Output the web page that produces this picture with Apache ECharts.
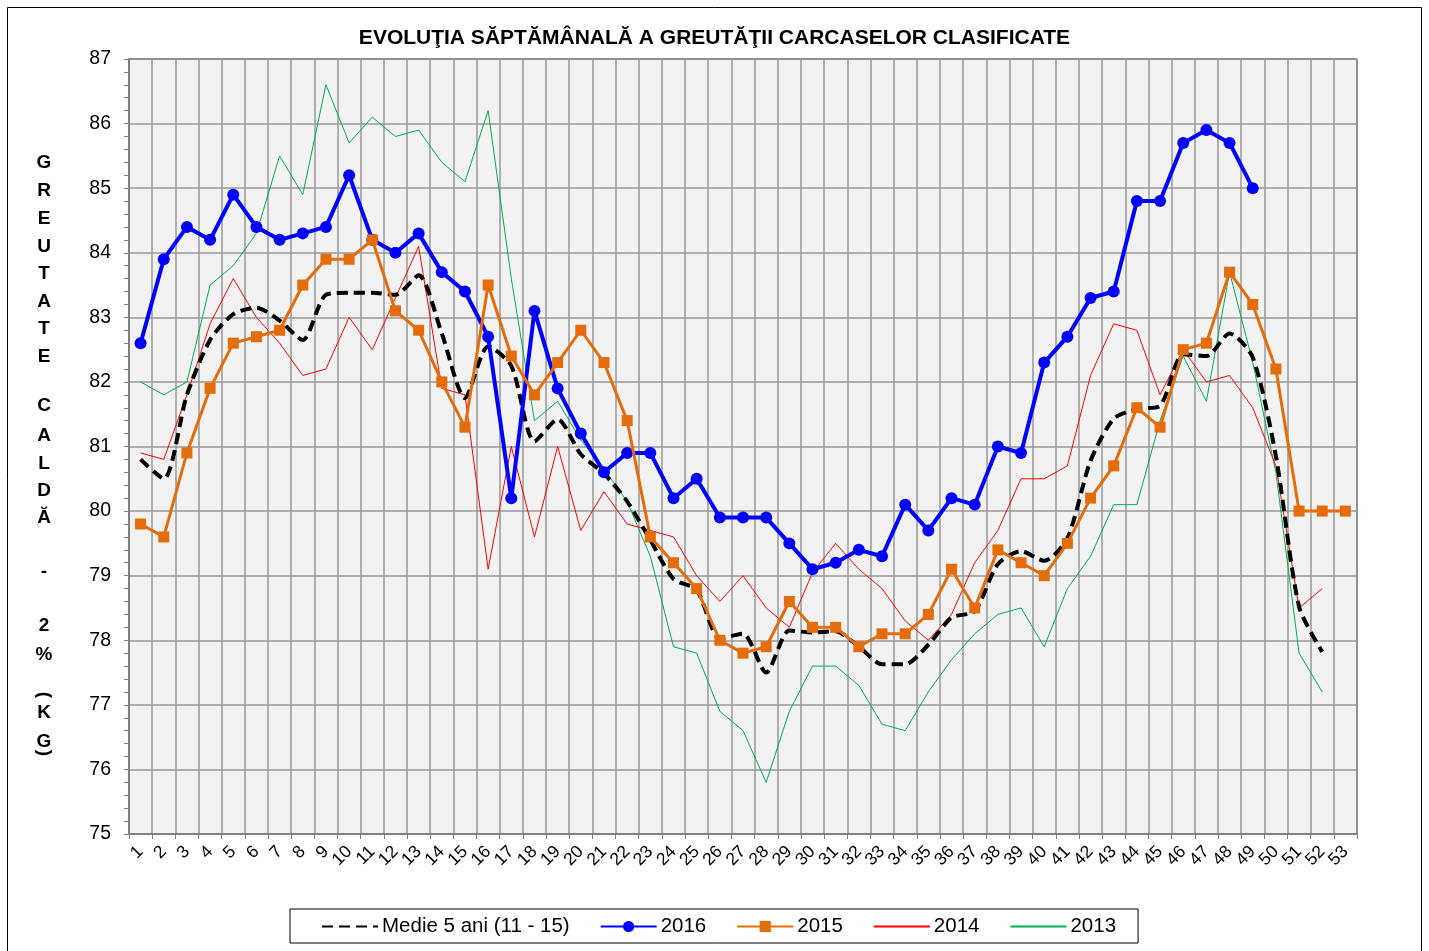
<!DOCTYPE html>
<html>
<head>
<meta charset="utf-8">
<script src="https://cdn.jsdelivr.net/npm/echarts@6/dist/echarts.min.js"></script>
<style>
html,body{margin:0;padding:0;background:#fff;}
#chart{width:1429px;height:951px;}
</style>
</head>
<body>
<div id="chart"></div>
<script>
var weeks = [];
for (var i = 1; i <= 53; i++) weeks.push(String(i));

var medie = [80.8, 80.5, 81.8, 82.65, 83.05, 83.15, 82.95, 82.65, 83.35, 83.38, 83.38, 83.35, 83.65, 82.75, 81.75, 82.55, 82.25, 81.08, 81.42, 80.88, 80.58, 80.15, 79.55, 78.95, 78.78, 78.03, 78.1, 77.5, 78.15, 78.12, 78.14, 77.9, 77.63, 77.63, 77.93, 78.35, 78.45, 79.18, 79.38, 79.23, 79.58, 80.78, 81.43, 81.58, 81.63, 82.43, 82.4, 82.75, 82.38, 80.85, 78.52, 77.82];
var y2016 = [82.6, 83.9, 84.4, 84.2, 84.9, 84.4, 84.2, 84.3, 84.4, 85.2, 84.2, 84.0, 84.3, 83.7, 83.4, 82.7, 80.2, 83.1, 81.9, 81.2, 80.6, 80.9, 80.9, 80.2, 80.5, 79.9, 79.9, 79.9, 79.5, 79.1, 79.2, 79.4, 79.3, 80.1, 79.7, 80.2, 80.1, 81.0, 80.9, 82.3, 82.7, 83.3, 83.4, 84.8, 84.8, 85.7, 85.9, 85.7, 85.0];
var y2015 = [79.8, 79.6, 80.9, 81.9, 82.6, 82.7, 82.8, 83.5, 83.9, 83.9, 84.2, 83.1, 82.8, 82.0, 81.3, 83.5, 82.4, 81.8, 82.3, 82.8, 82.3, 81.4, 79.6, 79.2, 78.8, 78.0, 77.8, 77.9, 78.6, 78.2, 78.2, 77.9, 78.1, 78.1, 78.4, 79.1, 78.5, 79.4, 79.2, 79.0, 79.5, 80.2, 80.7, 81.6, 81.3, 82.5, 82.6, 83.7, 83.2, 82.2, 80.0, 80.0, 80.0];
var y2014 = [80.9, 80.8, 81.8, 82.9, 83.6, 83.0, 82.6, 82.1, 82.2, 83.0, 82.5, 83.3, 84.1, 81.9, 81.8, 79.1, 81.0, 79.6, 81.0, 79.7, 80.3, 79.8, 79.7, 79.6, 79.0, 78.6, 79.0, 78.5, 78.2, 79.05, 79.5, 79.1, 78.8, 78.3, 78.0, 78.4, 79.2, 79.7, 80.5, 80.5, 80.7, 82.1, 82.9, 82.8, 81.8, 82.5, 82.0, 82.1, 81.6, 80.7, 78.5, 78.8];
var y2013 = [82.0, 81.8, 82.0, 83.5, 83.8, 84.3, 85.5, 84.9, 86.6, 85.7, 86.1, 85.8, 85.9, 85.4, 85.1, 86.2, 83.6, 81.4, 81.7, 81.1, 80.65, 80.15, 79.3, 77.9, 77.8, 76.9, 76.6, 75.8, 76.9, 77.6, 77.6, 77.3, 76.7, 76.6, 77.2, 77.7, 78.1, 78.4, 78.5, 77.9, 78.8, 79.3, 80.1, 80.1, 81.4, 82.4, 81.7, 83.7, 82.3, 80.6, 77.8, 77.2];

var seriesNames = ['Medie 5 ani (11 - 15)', '2016', '2015', '2014', '2013'];
var titleText = 'EVOLUŢIA SĂPTĂMÂNALĂ A GREUTĂŢII CARCASELOR CLASIFICATE';

// vertical y-axis title characters and their vertical centers
var yTitleChars = ['G','R','E','U','T','A','T','E','C','A','L','D','Ă','-','2','%','(','K','G',')'];
var yTitlePos = [163,191,219,247,274,302,329,357,406,436,464,491,518,572,626,655,695,713,742,753];

var chart = echarts.init(document.getElementById('chart'));

var yTitleEls = yTitleChars.map(function (c, i) {
  var isParen = (c === '(' || c === ')');
  return {
    type: 'text',
    x: 44,
    y: yTitlePos[i],
    rotation: isParen ? -Math.PI / 2 : 0,
    style: {
      text: c,
      font: 'bold 19px "Liberation Sans", Arial, sans-serif',
      fill: '#000',
      align: 'center',
      verticalAlign: 'middle'
    }
  };
});

var noSymbol = { opacity: 0 };

var option = {
  backgroundColor: '#fff',
  animation: false,
  textStyle: { fontFamily: '"Liberation Sans", Arial, sans-serif' },
  title: {
    text: titleText,
    left: 'center',
    top: 23,
    textStyle: { fontSize: 21, fontWeight: 'bold', color: '#000', fontFamily: '"Liberation Sans", Arial, sans-serif' }
  },
  graphic: [
    {
      type: 'rect',
      shape: { x: 7.5, y: 7.5, width: 1414, height: 970 },
      style: { fill: 'none', stroke: '#000', lineWidth: 1 },
      z: -10
    }
  ].concat(yTitleEls),
  legend: {
    data: [
      { name: seriesNames[0], itemStyle: noSymbol },
      { name: seriesNames[1] },
      { name: seriesNames[2] },
      { name: seriesNames[3], itemStyle: noSymbol },
      { name: seriesNames[4], itemStyle: noSymbol }
    ],
    bottom: 8,
    left: 290,
    padding: [7, 22, 6, 31],
    itemGap: 30,
    itemWidth: 56,
    itemHeight: 14,
    borderColor: '#000',
    borderWidth: 1,
    textStyle: { fontSize: 20.5, color: '#000', padding: [0, 0, 0, -1] }
  },
  grid: {
    left: 129,
    top: 59,
    right: 72,
    bottom: 117,
    show: true,
    backgroundColor: '#f2f2f2',
    borderColor: '#000',
    borderWidth: 1
  },
  xAxis: {
    type: 'category',
    data: weeks,
    boundaryGap: true,
    axisLine: { lineStyle: { color: '#808080', width: 2 } },
    axisTick: { show: true, length: 5, lineStyle: { color: '#808080' } },
    axisLabel: { rotate: 45, fontSize: 17.5, color: '#000', margin: 15, interval: 0 },
    splitLine: { show: true, lineStyle: { color: '#999999', width: 1.5 } }
  },
  yAxis: {
    type: 'value',
    min: 75,
    max: 87,
    interval: 1,
    axisLine: { show: true, lineStyle: { color: '#808080', width: 2 } },
    axisTick: { show: true, length: 5, lineStyle: { color: '#808080' } },
    minorTick: { show: true, splitNumber: 5, length: 5, lineStyle: { color: '#808080' } },
    axisLabel: { fontSize: 19.5, color: '#000', margin: 18 },
    splitLine: { show: true, lineStyle: { color: '#999999', width: 1.5 } }
  },
  series: [
    {
      name: seriesNames[0], type: 'line', data: medie, smooth: 0.25,
      symbol: 'none', z: 4,
      lineStyle: { color: '#000', width: 4, type: [11, 6] },
      itemStyle: { color: '#000' }
    },
    {
      name: seriesNames[1], type: 'line', data: y2016,
      symbol: 'circle', symbolSize: 12, z: 5,
      lineStyle: { color: '#0000ff', width: 4 },
      itemStyle: { color: '#0000ff' }
    },
    {
      name: seriesNames[2], type: 'line', data: y2015,
      symbol: 'rect', symbolSize: 11, z: 6,
      lineStyle: { color: '#e46c0a', width: 3 },
      itemStyle: { color: '#e46c0a' }
    },
    {
      name: seriesNames[3], type: 'line', data: y2014,
      symbol: 'none', z: 3,
      lineStyle: { color: '#ff0000', width: 1 },
      itemStyle: { color: '#ff0000' }
    },
    {
      name: seriesNames[4], type: 'line', data: y2013,
      symbol: 'none', z: 2,
      lineStyle: { color: '#00b050', width: 1 },
      itemStyle: { color: '#00b050' }
    }
  ]
};
chart.setOption(option);
</script>
</body>
</html>
